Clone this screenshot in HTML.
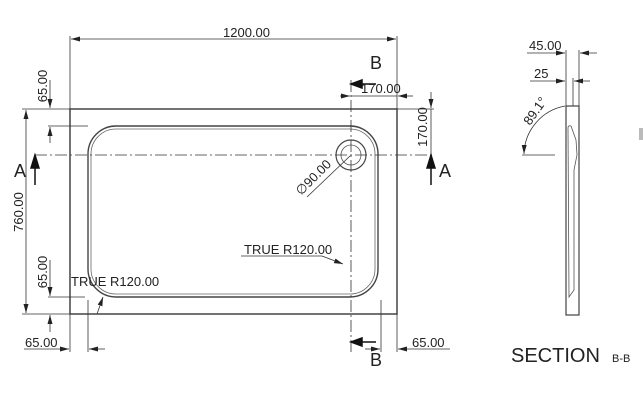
<!DOCTYPE html>
<html><head><style>
html,body{margin:0;padding:0;background:#fff;}
svg{display:block;}
text{font-family:"Liberation Sans",sans-serif;fill:#222;}
</style></head><body>
<svg width="643" height="400" viewBox="0 0 643 400" xmlns="http://www.w3.org/2000/svg">
<defs>
<marker id="ar" markerWidth="10" markerHeight="6" refX="9" refY="3" orient="auto" markerUnits="userSpaceOnUse"><path d="M0,0.5 L9,3 L0,5.5 z" fill="#222"/></marker>
</defs>
<g stroke="#333" stroke-width="0.8" fill="none">
<rect x="70" y="109" width="327" height="205" stroke="#444" stroke-width="1.5"/>
<rect x="88" y="126" width="290" height="171" rx="28" stroke="#444" stroke-width="1.4"/>
<rect x="91" y="129" width="284" height="165" rx="25" stroke="#666" stroke-width="0.8"/>
<circle cx="351" cy="155" r="15" stroke="#444" stroke-width="1.2"/>
<circle cx="351" cy="155" r="10" stroke="#555"/>
<line x1="35" y1="155" x2="432" y2="155" stroke-dasharray="12,3,2,3"/>
<line x1="351" y1="80" x2="351" y2="352" stroke-dasharray="12,3,2,3"/>
<line x1="70" y1="36" x2="70" y2="109"/><line x1="397" y1="36" x2="397" y2="109"/>
<line x1="200" y1="39" x2="396" y2="39" marker-end="url(#ar)"/>
<line x1="200" y1="39" x2="71" y2="39" marker-end="url(#ar)"/>
<line x1="22" y1="109" x2="70" y2="109"/><line x1="22" y1="314" x2="70" y2="314"/>
<line x1="26" y1="200" x2="26" y2="110" marker-end="url(#ar)"/>
<line x1="26" y1="200" x2="26" y2="313" marker-end="url(#ar)"/>
<line x1="48" y1="126" x2="88" y2="126"/>
<line x1="50" y1="80" x2="50" y2="108" marker-end="url(#ar)"/>
<line x1="50" y1="143" x2="50" y2="127" marker-end="url(#ar)"/>
<line x1="48" y1="297" x2="85" y2="297"/>
<line x1="50" y1="260" x2="50" y2="296" marker-end="url(#ar)"/>
<line x1="50" y1="332" x2="50" y2="315" marker-end="url(#ar)"/>
<line x1="70" y1="314" x2="70" y2="352"/><line x1="88" y1="300" x2="88" y2="352"/>
<line x1="24" y1="349" x2="69" y2="349" marker-end="url(#ar)"/>
<line x1="105" y1="349" x2="89" y2="349" marker-end="url(#ar)"/>
<line x1="381" y1="300" x2="381" y2="352"/><line x1="397" y1="314" x2="397" y2="352"/>
<line x1="365" y1="349" x2="380" y2="349" marker-end="url(#ar)"/>
<line x1="450" y1="349" x2="398" y2="349" marker-end="url(#ar)"/>
<line x1="340" y1="96" x2="350" y2="96" marker-end="url(#ar)"/>
<line x1="413" y1="96" x2="398" y2="96" marker-end="url(#ar)"/>
<line x1="351" y1="96" x2="397" y2="96"/>
<line x1="397" y1="109" x2="434" y2="109"/>
<line x1="431" y1="92" x2="431" y2="108" marker-end="url(#ar)"/>
<line x1="431" y1="172" x2="431" y2="156" marker-end="url(#ar)"/>
<line x1="431" y1="109" x2="431" y2="155"/>
<line x1="307" y1="197" x2="350" y2="156"/>
<line x1="241" y1="256" x2="322" y2="256"/>
<line x1="322" y1="256" x2="343" y2="264" marker-end="url(#ar)"/>
<line x1="97" y1="314" x2="103" y2="297" marker-end="url(#ar)"/>
<rect x="566" y="106" width="13" height="209" stroke="#444" stroke-width="1.2"/>
<path d="M568,128 Q568,125 571,126 L576,140 L577,155 L574,170 L574,290 L569,297 Z" stroke="#555"/>
<line x1="566" y1="50" x2="566" y2="106"/><line x1="579" y1="50" x2="579" y2="106"/>
<line x1="527" y1="53" x2="565" y2="53" marker-end="url(#ar)"/>
<line x1="597" y1="53" x2="580" y2="53" marker-end="url(#ar)"/>
<line x1="573" y1="78" x2="573" y2="106"/>
<line x1="530" y1="81" x2="565" y2="81" marker-end="url(#ar)"/>
<line x1="590" y1="81" x2="574" y2="81" marker-end="url(#ar)"/>
<line x1="522" y1="155" x2="555" y2="155"/>
<path d="M565,106 A50,50 0 0 0 524,154" marker-end="url(#ar)"/>
</g>
<g fill="#111" stroke="#111" stroke-width="1.5">
<line x1="351" y1="84" x2="376" y2="84"/><path d="M351,84 L362,80 L362,88 z"/>
<line x1="351" y1="342" x2="376" y2="342"/><path d="M351,342 L362,338 L362,346 z"/>
<line x1="35" y1="185" x2="35" y2="157"/><path d="M35,155 L31,168 L39,168 z"/>
<line x1="431" y1="185" x2="431" y2="157"/><path d="M431,155 L427,168 L435,168 z"/>
</g>
<rect x="639" y="128" width="4" height="12" fill="#bbb"/>
<g font-size="13">
<text x="223" y="37">1200.00</text>
<text x="361" y="93">170.00</text>
<text x="71" y="286">TRUE R120.00</text>
<text x="244" y="254">TRUE R120.00</text>
<text x="25" y="347">65.00</text>
<text x="412" y="347">65.00</text>
<text x="529" y="50">45.00</text>
<text x="534" y="78">25</text>
<text transform="translate(47,86) rotate(-90)" text-anchor="middle">65.00</text>
<text transform="translate(47,272) rotate(-90)" text-anchor="middle">65.00</text>
<text transform="translate(23,212) rotate(-90)" text-anchor="middle">760.00</text>
<text transform="translate(427,127) rotate(-90)" text-anchor="middle">170.00</text>
<text transform="translate(301,196) rotate(-45)">∅90.00</text>
<text transform="translate(530,126) rotate(-55)">89.1°</text>
</g>
<g font-size="18">
<text x="370" y="69">B</text>
<text x="370" y="366">B</text>
<text x="14" y="177">A</text>
<text x="439" y="177">A</text>
</g>
<text x="511" y="362" font-size="20">SECTION</text>
<text x="612" y="362" font-size="11">B-B</text>
</svg>
</body></html>
